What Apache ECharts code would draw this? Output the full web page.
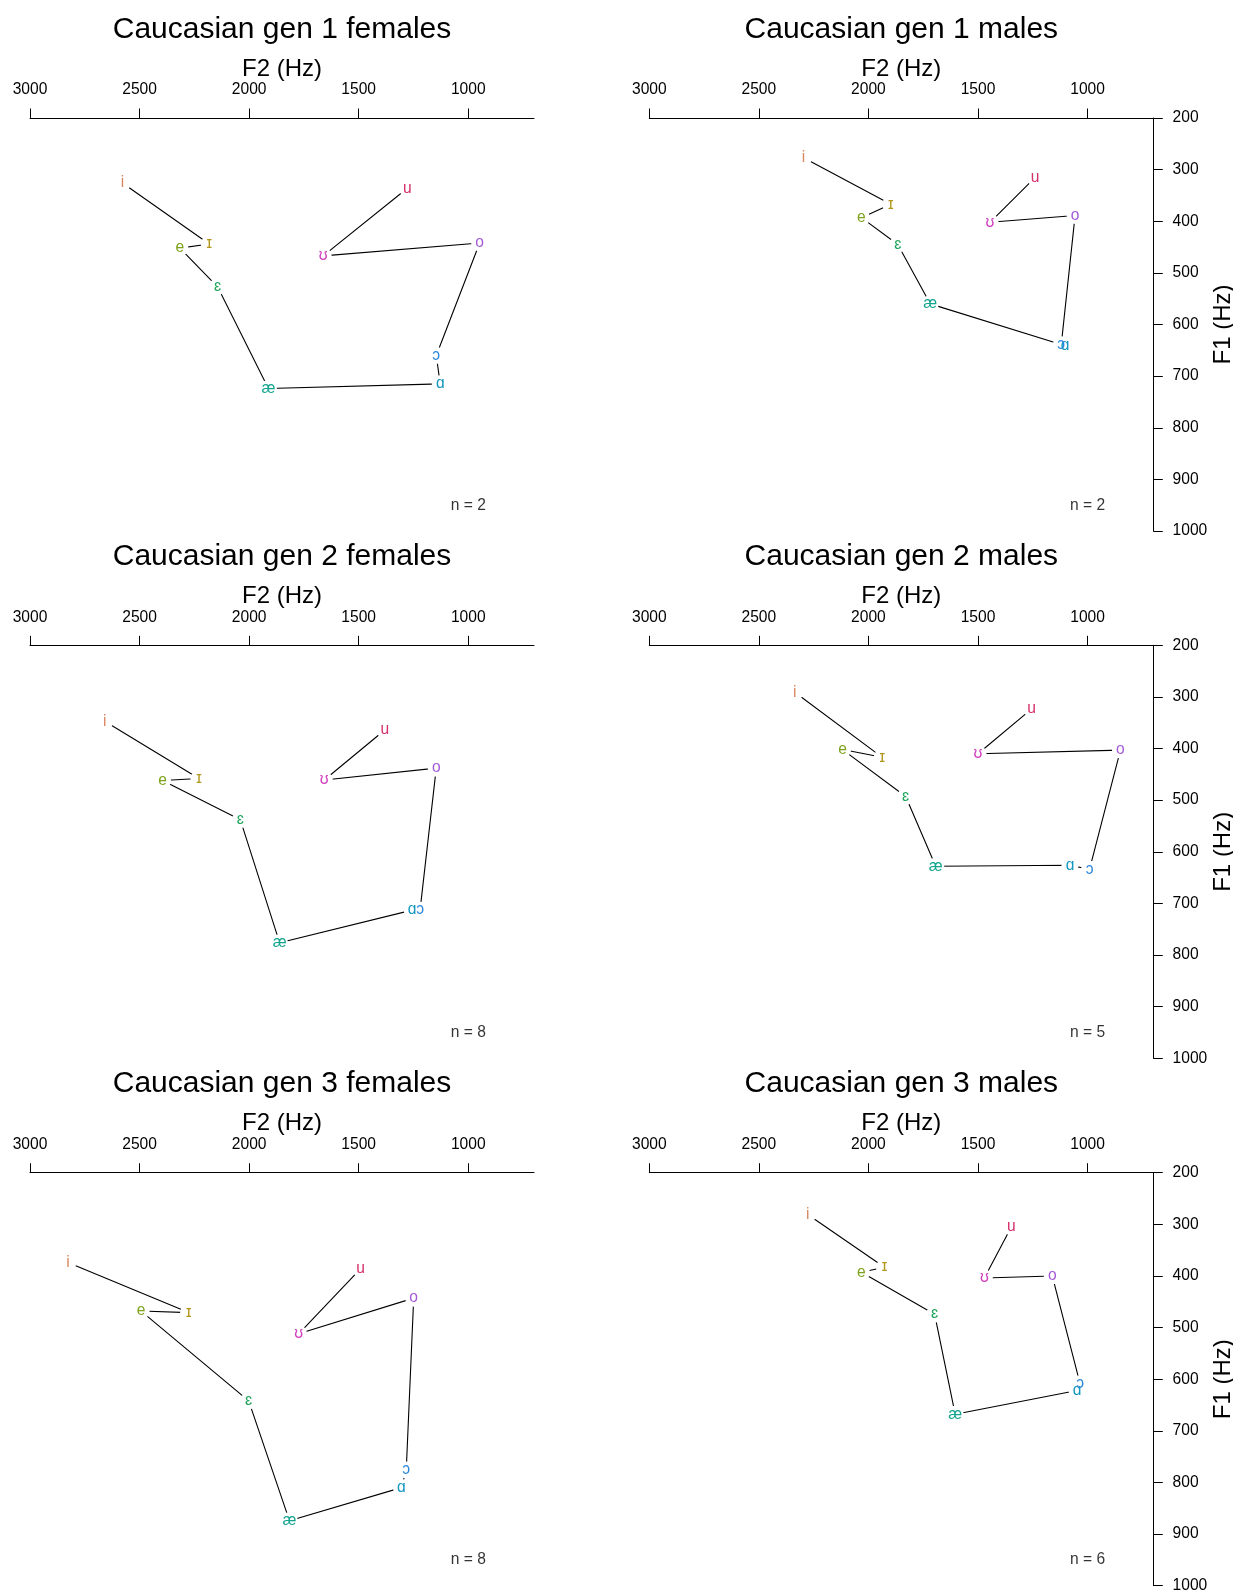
<!DOCTYPE html>
<html>
<head>
<meta charset="utf-8">
<script src="https://cdn.jsdelivr.net/npm/echarts@6/dist/echarts.min.js"></script>
<style>
html,body{margin:0;padding:0;background:#fff;}
#chart{width:1233px;height:1591px;}
</style>
</head>
<body>
<div id="chart"></div>
<script>
// ---- data ----
const vowels = ['i', 'ɪ', 'e', 'ɛ', 'æ', 'ɑ', 'ɔ', 'o', 'ʊ', 'u'];
const vowelColors = ['#D9865E', '#B2961A', '#7CA31B', '#20A45C', '#12A48E', '#1497BF', '#2B86DB', '#A35AD8', '#D03BBE', '#D52F6B'];
const panelTitles = ['Caucasian gen 1 females', 'Caucasian gen 1 males',
                     'Caucasian gen 2 females', 'Caucasian gen 2 males',
                     'Caucasian gen 3 females', 'Caucasian gen 3 males'];
const nCounts = [2, 2, 8, 5, 8, 6];
const xTickValues = [3000, 2500, 2000, 1500, 1000];

const f2Gen1Females = [2578, 2182, 2316, 2144, 1912, 1128, 1146, 948, 1662, 1278];
const f1Gen1Females = [326, 444, 452, 527, 724, 715, 660, 442, 467, 336];
const f2Gen1Males   = [2296, 1898, 2032, 1866, 1718, 1102, 1120, 1057, 1445, 1239];
const f1Gen1Males   = [277, 367, 393, 445, 560, 641, 639, 389, 402, 315];
const f2Gen2Females = [2659, 2229, 2395, 2040, 1861, 1256, 1220, 1146, 1657, 1381];
const f1Gen2Females = [347, 458, 462, 538, 776, 713, 713, 438, 461, 364];
const f2Gen2Males   = [2336, 1937, 2118, 1830, 1693, 1080, 991, 850, 1500, 1255];
const f1Gen2Males   = [291, 417, 402, 493, 628, 626, 634, 403, 410, 323];
const f2Gen3Females = [2827, 2276, 2493, 2002, 1816, 1305, 1283, 1249, 1774, 1491];
const f1Gen3Females = [374, 471, 468, 642, 874, 810, 776, 443, 512, 386];
const f2Gen3Males   = [2277, 1927, 2032, 1698, 1604, 1048, 1034, 1161, 1471, 1348];
const f1Gen3Males   = [281, 383, 393, 474, 668, 622, 609, 400, 404, 305];

// ---- layout / style ----
const FONT = '"Liberation Sans", Arial, Helvetica, sans-serif';
const nLabelAt = [1000, 950];
const gridLeft = [30.0, 649.3];
const gridTop = [118.0, 645.3, 1172.7];
const gridW = 504, gridH = 413;

const panels = [
  {f2: f2Gen1Females, f1: f1Gen1Females, col: 0, row: 0},
  {f2: f2Gen1Males,   f1: f1Gen1Males,   col: 1, row: 0},
  {f2: f2Gen2Females, f1: f1Gen2Females, col: 0, row: 1},
  {f2: f2Gen2Males,   f1: f1Gen2Males,   col: 1, row: 1},
  {f2: f2Gen3Females, f1: f1Gen3Females, col: 0, row: 2},
  {f2: f2Gen3Males,   f1: f1Gen3Males,   col: 1, row: 2}
];

const chart = echarts.init(document.getElementById('chart'), null, {renderer: 'canvas'});

const plain = v => String(v);

const titles = panels.map((p, i) => ({
  text: panelTitles[i],
  left: gridLeft[p.col] + gridW / 2,
  top: gridTop[p.row] - 103.5,
  textAlign: 'center',
  textVerticalAlign: 'top',
  padding: 0,
  textStyle: {fontSize: 30, fontWeight: 'normal', color: '#000', fontFamily: FONT}
}));

const grids = panels.map(p => ({
  left: gridLeft[p.col], top: gridTop[p.row], width: gridW, height: gridH,
  containLabel: false, outerBoundsMode: 'none'
}));

const xAxes = panels.map((p, i) => ({
  gridIndex: i, type: 'value', position: 'top', inverse: true, min: 700, max: 3000,
  name: 'F2 (Hz)', nameLocation: 'middle', nameGap: 37,
  nameTextStyle: {fontSize: 24, color: '#000', fontFamily: FONT},
  axisLine: {show: true, onZero: false, lineStyle: {color: '#000', width: 1}},
  axisTick: {show: true, length: 9.5, customValues: xTickValues, lineStyle: {color: '#000', width: 1}},
  axisLabel: {show: true, customValues: xTickValues, margin: 20, fontSize: 15.6, color: '#000',
              fontFamily: FONT, formatter: plain},
  splitLine: {show: false}
}));

const yAxes = panels.map((p, i) => {
  if (p.col === 0) {
    return {gridIndex: i, type: 'value', inverse: true, min: 200, max: 1000, interval: 100, show: false};
  }
  return {
    gridIndex: i, type: 'value', position: 'right', inverse: true, min: 200, max: 1000, interval: 100,
    name: 'F1 (Hz)', nameLocation: 'middle', nameGap: 52,
    nameTextStyle: {fontSize: 24, color: '#000', fontFamily: FONT},
    axisLine: {show: true, onZero: false, lineStyle: {color: '#000', width: 1}},
    axisTick: {show: true, length: 9.5, lineStyle: {color: '#000', width: 1}},
    axisLabel: {show: true, margin: 19.3, fontSize: 15.6, color: '#000', fontFamily: FONT, formatter: plain},
    splitLine: {show: false}
  };
});

const series = [];
panels.forEach((p, i) => {
  series.push({
    type: 'line', xAxisIndex: i, yAxisIndex: i, silent: true,
    data: p.f2.map((x, k) => ({value: [x, p.f1[k]], label: {color: vowelColors[k]}})),
    symbol: 'circle', symbolSize: 17, showSymbol: true, showAllSymbol: true,
    itemStyle: {color: '#fff', borderWidth: 0},
    lineStyle: {color: '#000', width: 1.1},
    label: {show: true, position: 'inside', fontSize: 15.6, fontFamily: FONT,
            formatter: prm => vowels[prm.dataIndex]},
    emphasis: {disabled: true}
  });
  series.push({
    type: 'scatter', xAxisIndex: i, yAxisIndex: i, silent: true,
    data: [{value: nLabelAt}],
    symbolSize: 1, itemStyle: {color: 'rgba(0,0,0,0)'},
    label: {show: true, position: 'inside', color: '#000', fontSize: 15.6, fontFamily: FONT,
            formatter: 'n = ' + nCounts[i]},
    emphasis: {disabled: true}
  });
});

chart.setOption({
  animation: false,
  backgroundColor: '#fff',
  textStyle: {fontFamily: FONT},
  title: titles,
  grid: grids,
  xAxis: xAxes,
  yAxis: yAxes,
  series: series
});
</script>
</body>
</html>
